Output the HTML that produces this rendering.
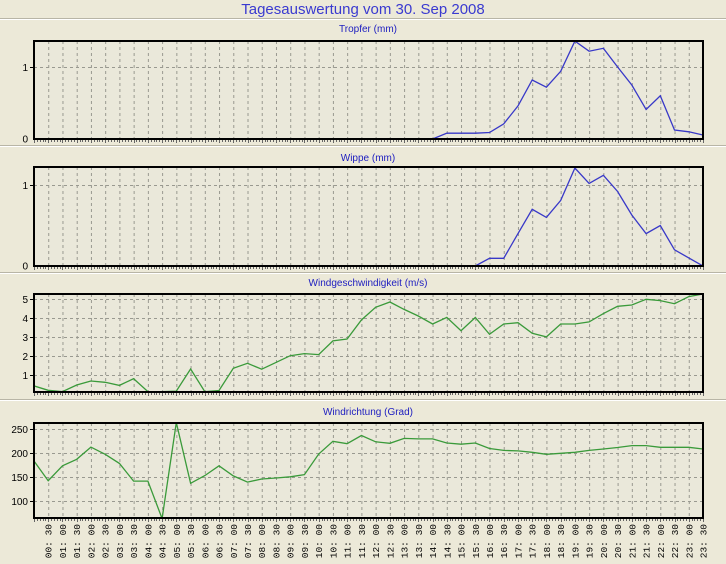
<!DOCTYPE html>
<html><head><meta charset="utf-8">
<style>
html,body{margin:0;padding:0;background:#ECE9D8;}
svg{display:block;font-family:"Liberation Sans",sans-serif;}
</style></head>
<body>
<svg id="c" width="726" height="564" viewBox="0 0 726 564">
<text x="363" y="14" text-anchor="middle" font-size="15" fill="#3a3ad0">Tagesauswertung vom 30. Sep 2008</text>
</svg>
<script>
const timeLabels = ["00:00","00:30","01:00","01:30","02:00","02:30","03:00","03:30","04:00","04:30","05:00","05:30","06:00","06:30","07:00","07:30","08:00","08:30","09:00","09:30","10:00","10:30","11:00","11:30","12:00","12:30","13:00","13:30","14:00","14:30","15:00","15:30","16:00","16:30","17:00","17:30","18:00","18:30","19:00","19:30","20:00","20:30","21:00","21:30","22:00","22:30","23:00","23:30"];
const tropfer = [0,0,0,0,0,0,0,0,0,0,0,0,0,0,0,0,0,0,0,0,0,0,0,0,0,0,0,0,0,0.08,0.08,0.08,0.09,0.21,0.46,0.82,0.72,0.94,1.36,1.22,1.26,1.0,0.75,0.41,0.6,0.125,0.10,0.055];
const wippe = [0,0,0,0,0,0,0,0,0,0,0,0,0,0,0,0,0,0,0,0,0,0,0,0,0,0,0,0,0,0,0,0,0.095,0.095,0.4,0.7,0.6,0.81,1.21,1.02,1.12,0.92,0.63,0.4,0.5,0.2,0.1,0];
const windSpeed = [0.44,0.21,0.14,0.49,0.7,0.63,0.47,0.82,0.14,0.14,0.17,1.33,0.14,0.2,1.37,1.63,1.32,1.68,2.03,2.14,2.09,2.81,2.91,3.91,4.58,4.86,4.47,4.12,3.7,4.05,3.35,4.04,3.16,3.7,3.77,3.21,3.02,3.7,3.7,3.81,4.25,4.63,4.7,5.0,4.93,4.77,5.14,5.28];
const windDir = [184,143,174,187.5,213,198,179,142,142,64,264,137.5,153.5,174,153,140,146.5,148.6,151,155.5,198.6,225,220,237,224,220.8,231,230,230,221.5,219,221.5,210,206,205,202,198,200,202,206,209,212,216,216,212.5,212.5,212.5,209];
const tick1 = [1], tick2 = [1], tick3 = [1,2,3,4,5], tick4 = [100,150,200,250];

const NS="http://www.w3.org/2000/svg";
const svg=document.getElementById('c');
function mk(tag,attrs,parent){const e=document.createElementNS(NS,tag);for(const k in attrs)e.setAttribute(k,attrs[k]);(parent||svg).appendChild(e);return e;}
const X0=34, X1=703;
const xs=i=>X0+i*(X1-X0)/(timeLabels.length-1);

[18,145,272,399].forEach((y,k)=>{
  const l=mk('line',{x1:0,x2:726,y1:y+0.5,y2:y+0.5,stroke:'#b8b5a6'});
  
  
  const l2=mk('line',{x1:0,x2:726,y1:y+1.5,y2:y+1.5,stroke:'#ffffff'});
  
  
});

const panels=[
 {name:'tropfer',title:'Tropfer (mm)',ty:32,top:41,bot:139,zeroY:139,ppu:72,vmin:0,data:tropfer,ticks:tick1,color:'#3838c8',zeroLabel:true},
 {name:'wippe',title:'Wippe (mm)',ty:161,top:167,bot:266,zeroY:266,ppu:81,vmin:0,data:wippe,ticks:tick2,color:'#3838c8',zeroLabel:true},
 {name:'wind-speed',title:'Windgeschwindigkeit (m/s)',ty:286,top:294,bot:392,zeroY:394.3,ppu:19,vmin:0,data:windSpeed,ticks:tick3,color:'#3a9a3a'},
 {name:'wind-direction',title:'Windrichtung (Grad)',ty:415,top:423,bot:518,zeroY:429.3,ppu:0.48,vmin:250,data:windDir,ticks:tick4,color:'#3a9a3a'}
];

panels.forEach(p=>{
  const g=mk('g',{});
  
  
  const ys=v=>p.zeroY-(v-p.vmin)*p.ppu;
  const t=mk('text',{x:368,y:p.ty,'text-anchor':'middle','font-size':'10',fill:'#2020c0'},g);
  t.textContent=p.title;
  
  
  const bg=mk('rect',{x:X0,y:p.top,width:X1-X0,height:p.bot-p.top,fill:'#EAE8DA'},g);
  
  
  for(let i=1;i<timeLabels.length-1;i++){
    const l=mk('line',{x1:xs(i)+0.5,x2:xs(i)+0.5,y1:p.top,y2:p.bot,stroke:'#999990','stroke-dasharray':'3,3'},g);
    
    
  }
  p.ticks.forEach(v=>{
    const y=Math.round(ys(v))+0.5;
    const l=mk('line',{x1:X0,x2:X1,y1:y,y2:y,stroke:'#999990','stroke-dasharray':'3,3'},g);
    
    
    const tk=mk('line',{x1:X0-4,x2:X0,y1:y,y2:y,stroke:'#000'},g);
    
    
    const lb=mk('text',{x:X0-6,y:y+3.5,'text-anchor':'end','font-size':'10',fill:'#000'},g);
    lb.textContent=String(v);
    
    
  });
  if(p.zeroLabel){
    const lb=mk('text',{x:X0-6,y:p.bot+3.5,'text-anchor':'end','font-size':'10',fill:'#000'},g);
    lb.textContent='0';
    
    
  }
  let d='';
  const step=(X1-X0)/(timeLabels.length-1)/5;
  for(let k=0;k<=(timeLabels.length-1)*5;k++){const x=Math.round(X0+k*step)+0.5;d+=`M${x},${p.bot}v${k%5==0?4:3}`;}
  const mt=mk('path',{d:d,stroke:'#666',fill:'none'},g);
  
  
  const clip=mk('clipPath',{id:'cl-'+p.name},g);
  mk('rect',{x:X0,y:p.top,width:X1-X0,height:p.bot-p.top},clip);
  const pts=p.data.map((v,i)=>xs(i).toFixed(1)+','+ys(v).toFixed(1)).join(' ');
  const pl=mk('polyline',{points:pts,fill:'none',stroke:p.color,'stroke-width':'1.3','clip-path':'url(#cl-'+p.name+')'},g);
  
  
  const fr=mk('rect',{x:X0,y:p.top,width:X1-X0,height:p.bot-p.top,fill:'none',stroke:'#000','stroke-width':'2'},g);
  
  
});

for(let i=1;i<timeLabels.length;i++){
  const x=xs(i)+3.5;
  const t=mk('text',{x:x,y:524,'text-anchor':'end','font-size':'9.5','font-family':'Liberation Mono, monospace',fill:'#000',transform:`rotate(-90 ${x} 524)`});
  t.textContent=timeLabels[i].replace(':',': ');
  
  
}
</script>
</body></html>
